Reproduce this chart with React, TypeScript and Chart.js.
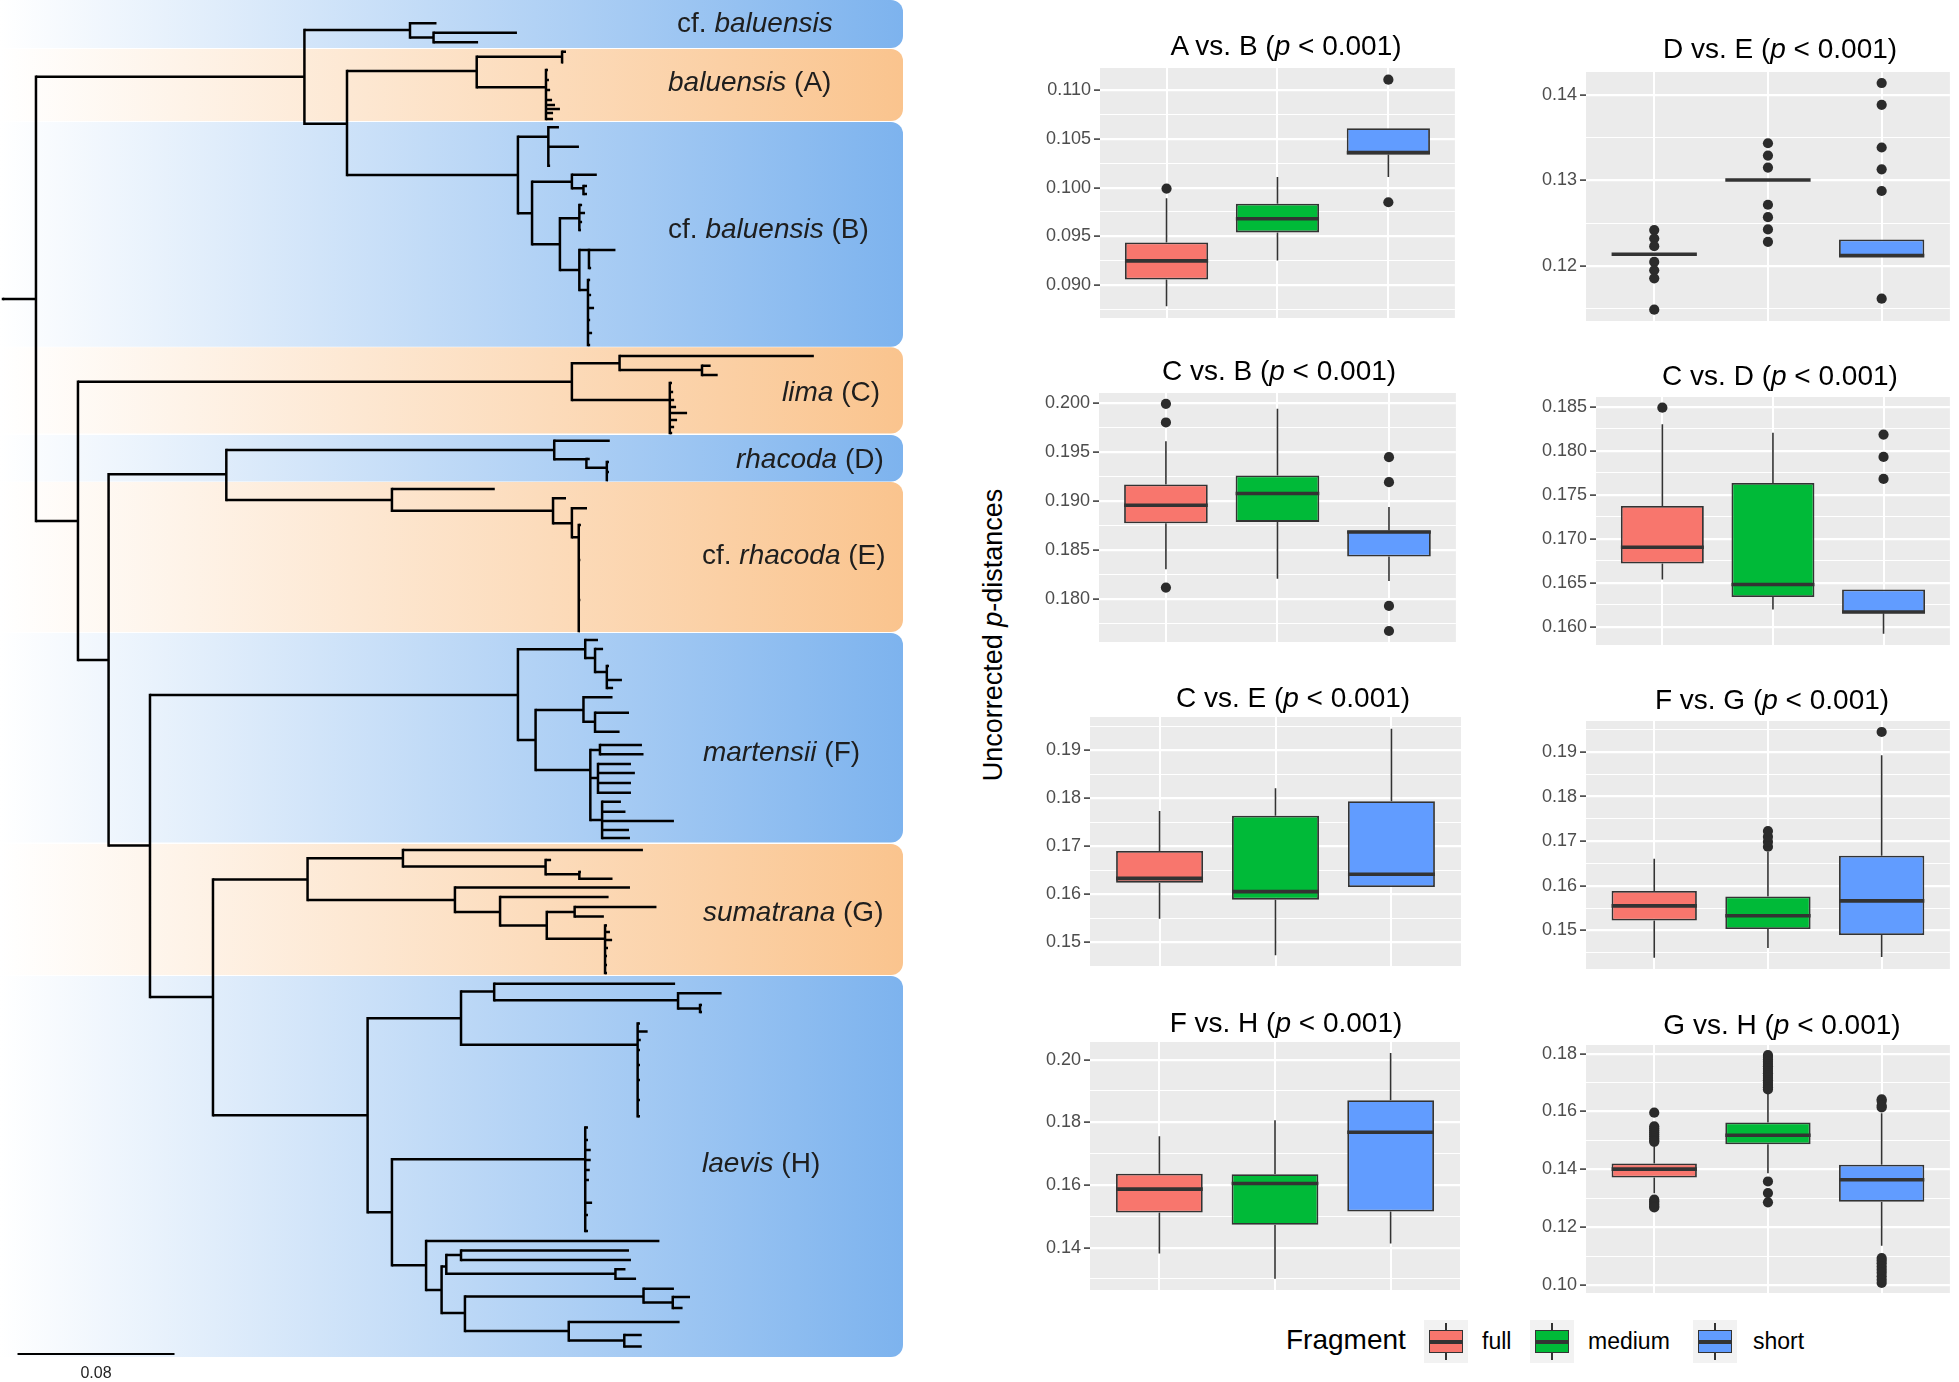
import React, { useEffect, useRef } from 'react';
import { Chart, registerables } from 'chart.js';

Chart.register(...registerables);

const FONT = '"Liberation Sans", Arial, Helvetica, sans-serif';

/* ======================= Tree data ======================= */
// [node id ('' = tip), parent id, depth (x 0.001 substitutions/site), row position]
const TREE_NODES: [string, string, number, number][] = [
  ['S', '', 0, 299],
  ['R', 'S', 16.8, 299],
  ['N1', 'R', 153.6, 76.7],
  ['N1a', 'N1', 207.4, 30],
  ['', 'N1a', 220.9, 23.3],
  ['N1b', 'N1a', 219.4, 37.5],
  ['', 'N1b', 261.9, 32.7],
  ['', 'N1b', 242.1, 42.3],
  ['N2', 'N1', 175.3, 123.7],
  ['A', 'N2', 241.4, 71],
  ['A1', 'A', 284.9, 56.7],
  ['', 'A1', 286.9, 51.7],
  ['', 'A1', 285.4, 62.3],
  ['A2', 'A', 276.7, 87.3],
  ['', 'A2', 277.7, 70], ['', 'A2', 278.2, 80], ['', 'A2', 278.8, 90], ['', 'A2', 279.8, 100],
  ['', 'A2', 281.3, 105], ['', 'A2', 283.8, 109], ['', 'A2', 280.3, 113], ['', 'A2', 280.3, 119],
  ['B', 'N2', 262.4, 175],
  ['B1', 'B', 277.9, 136.7],
  ['', 'B1', 283.3, 127.3], ['', 'B1', 293.5, 146.7], ['', 'B1', 278.8, 165.7],
  ['B2', 'B', 269.6, 213.3],
  ['B2a', 'B2', 289.9, 181.7],
  ['', 'B2a', 302.6, 174.7],
  ['B2b', 'B2a', 295.8, 188.3],
  ['', 'B2b', 297.6, 186], ['', 'B2b', 297.6, 194],
  ['B3', 'B2', 283.8, 244.3],
  ['B3a', 'B3', 293.7, 218.3],
  ['', 'B3a', 295.1, 205], ['', 'B3a', 296.6, 213], ['', 'B3a', 295.1, 222], ['', 'B3a', 294.5, 230],
  ['B4', 'B3', 293.7, 270],
  ['B4a', 'B4', 298.6, 250],
  ['', 'B4a', 312.1, 250], ['', 'B4a', 299.7, 268],
  ['B4b', 'B4', 298.1, 290],
  ['', 'B4b', 299.2, 280], ['', 'B4b', 299.7, 295], ['', 'B4b', 301.2, 308], ['', 'B4b', 299.2, 320],
  ['', 'B4b', 300.2, 333], ['', 'B4b', 299.2, 345],
  ['R2', 'R', 38.2, 521],
  ['C', 'R2', 289.9, 381.7],
  ['C1', 'C', 314.2, 363.3],
  ['', 'C1', 413.2, 356],
  ['C1b', 'C1', 356.2, 370],
  ['', 'C1b', 360.6, 365.7], ['', 'C1b', 364.2, 375],
  ['C2', 'C', 339.8, 400],
  ['', 'C2', 340.9, 383], ['', 'C2', 341.5, 392], ['', 'C2', 342, 400], ['', 'C2', 343, 407],
  ['', 'C2', 348.6, 413], ['', 'C2', 343.5, 420], ['', 'C2', 342, 427], ['', 'C2', 341, 433],
  ['R3', 'R2', 53.8, 660],
  ['DE', 'R3', 113.8, 474.3],
  ['D', 'DE', 280.9, 450],
  ['', 'D', 309.2, 440.7],
  ['D2', 'D', 297.3, 459.3],
  ['', 'D2', 299, 459],
  ['D3', 'D2', 307.7, 467.7],
  ['', 'D3', 308.8, 462], ['', 'D3', 308.8, 472], ['', 'D3', 308.3, 480],
  ['E', 'DE', 198.2, 500],
  ['', 'E', 250.6, 489],
  ['E1', 'E', 280.3, 510.7],
  ['', 'E1', 286.9, 498.3],
  ['E2', 'E1', 289.9, 523.3],
  ['', 'E2', 297.6, 508.3],
  ['E3', 'E2', 293.4, 537.3],
  ['', 'E3', 294.5, 525], ['', 'E3', 294, 540], ['', 'E3', 294.2, 560], ['', 'E3', 294, 580],
  ['', 'E3', 294.2, 600], ['', 'E3', 294, 615], ['', 'E3', 294, 631],
  ['R4', 'R3', 74.9, 845.5],
  ['F', 'R4', 262.4, 695],
  ['F1', 'F', 296.7, 649.3],
  ['', 'F1', 303.2, 640],
  ['F1b', 'F1', 301.7, 658],
  ['', 'F1b', 305.8, 649],
  ['F1c', 'F1b', 307.7, 672],
  ['', 'F1c', 308.8, 666], ['', 'F1c', 315.4, 680], ['', 'F1c', 310.9, 688],
  ['F2', 'F', 271.4, 740],
  ['F2a', 'F2', 295.8, 710],
  ['', 'F2a', 310.6, 697.3],
  ['F2b', 'F2a', 301.7, 721.7],
  ['', 'F2b', 319, 712.7], ['', 'F2b', 314.2, 731.7],
  ['F3', 'F2', 299.3, 770],
  ['Fa', 'F3', 304.2, 750],
  ['', 'Fa', 325.6, 745], ['', 'Fa', 326.4, 754.3],
  ['Fb', 'F3', 303.2, 778],
  ['', 'Fb', 320, 764], ['', 'Fb', 322, 773], ['', 'Fb', 320, 783], ['', 'Fb', 320, 792.7],
  ['Fc', 'F3', 305.3, 820],
  ['', 'Fc', 314.9, 801.7], ['', 'Fc', 317.2, 811.7], ['', 'Fc', 341.9, 821], ['', 'Fc', 319, 830],
  ['', 'Fc', 319.5, 838],
  ['GH', 'R4', 107.0, 997],
  ['G', 'GH', 155.2, 879.5],
  ['G1', 'G', 203.8, 858.3],
  ['', 'G1', 326.1, 850.1],
  ['G1b', 'G1', 276.5, 866.4],
  ['', 'G1b', 279.3, 860],
  ['G1c', 'G1b', 293.7, 874.2],
  ['', 'G1c', 294.5, 872], ['', 'G1c', 310.6, 878.8],
  ['G2', 'G', 230.3, 900],
  ['', 'G2', 319.5, 887.6],
  ['G3', 'G2', 253.3, 912],
  ['', 'G3', 308.6, 897.1],
  ['G4', 'G3', 277.1, 925.4],
  ['G4a', 'G4', 291.3, 912],
  ['', 'G4a', 333.0, 907], ['', 'G4a', 306.2, 916.6],
  ['G4b', 'G4', 306.8, 938.8],
  ['', 'G4b', 307.8, 925.4], ['', 'G4b', 309.3, 932], ['', 'G4b', 310.4, 940], ['', 'G4b', 308.3, 948],
  ['', 'G4b', 307.8, 956], ['', 'G4b', 307.8, 965], ['', 'G4b', 307.8, 973],
  ['H', 'GH', 185.8, 1115.2],
  ['H1', 'H', 233.4, 1018.3],
  ['H1a', 'H1', 250.3, 991.5],
  ['', 'H1a', 342.5, 983.7],
  ['H1c', 'H1a', 344.0, 1000.3],
  ['', 'H1c', 366.2, 993.3],
  ['H1d', 'H1c', 355.2, 1008.4],
  ['', 'H1d', 356.2, 1005], ['', 'H1d', 356.2, 1012],
  ['H1b', 'H1', 323.4, 1044.8],
  ['', 'H1b', 324.6, 1023.6], ['', 'H1b', 328.5, 1031.4], ['', 'H1b', 325, 1040], ['', 'H1b', 324.6, 1050],
  ['', 'H1b', 324.6, 1065], ['', 'H1b', 324.6, 1080], ['', 'H1b', 324.6, 1100], ['', 'H1b', 324.6, 1116.2],
  ['H2', 'H', 198.2, 1212.3],
  ['H2a', 'H2', 296.7, 1159.3],
  ['', 'H2a', 298.1, 1127.5], ['', 'H2a', 298.1, 1140], ['', 'H2a', 299.5, 1150], ['', 'H2a', 299.5, 1160],
  ['', 'H2a', 299, 1170], ['', 'H2a', 298.6, 1180], ['', 'H2a', 300.2, 1202.8], ['', 'H2a', 298.1, 1215],
  ['', 'H2a', 298.1, 1231],
  ['H3', 'H2', 215.6, 1265.3],
  ['', 'H3', 334.5, 1241],
  ['H4', 'H3', 223.5, 1290],
  ['H5', 'H4', 225.9, 1266.4],
  ['H5a', 'H5', 233.4, 1255],
  ['', 'H5a', 319, 1250.5], ['', 'H5a', 320, 1260],
  ['H5b', 'H5', 312.1, 1273.8],
  ['', 'H5b', 317.2, 1269.2], ['', 'H5b', 322.6, 1278.8],
  ['H6', 'H4', 235.4, 1313],
  ['H6a', 'H6', 326.4, 1296.4],
  ['', 'H6a', 341.9, 1288.7],
  ['H6b', 'H6a', 341.3, 1302.4],
  ['', 'H6b', 350.1, 1297], ['', 'H6b', 346.3, 1308],
  ['H7', 'H6', 288.3, 1331],
  ['', 'H7', 344.8, 1321.9],
  ['H7a', 'H7', 316.6, 1340.6],
  ['', 'H7a', 325.5, 1335], ['', 'H7a', 325.5, 1346.6],
];

const SCALE_BAR_START = 7.4;
const SCALE_BAR_LENGTH = 80; // = 0.08 substitutions/site
const SCALE_BAR_ROW = 1354;
const SCALE_BAR_LABEL = '0.08';

const CLADE_PREFIX = ['cf. ', '', 'cf. ', '', '', 'cf. ', '', '', ''];
const CLADE_SPECIES = ['baluensis', 'baluensis', 'baluensis', 'lima', 'rhacoda', 'rhacoda', 'martensii', 'sumatrana', 'laevis'];
const CLADE_SUFFIX = ['', ' (A)', ' (B)', ' (C)', ' (D)', ' (E)', ' (F)', ' (G)', ' (H)'];
const BAND_TOP = [0, 49, 122, 347.3, 435, 482, 633, 844, 976];
const BAND_BOTTOM = [48, 121, 346.7, 433.5, 481.5, 632, 842.4, 975, 1357];
const BAND_KIND = ['blue', 'orange', 'blue', 'orange', 'blue', 'orange', 'blue', 'orange', 'blue'];

/* ======================= Box plot data ======================= */
const FRAGMENTS = ['full', 'medium', 'short'];
const COMPARISONS = ['A vs. B', 'D vs. E', 'C vs. B', 'C vs. D', 'C vs. E', 'F vs. G', 'F vs. H', 'G vs. H'];
const P_TEXT = ' < 0.001)';
const Y_AXIS_TITLE_A = 'Uncorrected ';
const Y_AXIS_TITLE_B = '-distances';
const LEGEND_TITLE = 'Fragment';

// each row: [lower whisker, Q1, median, Q3, upper whisker] for full, medium, short
const AB_STATS = [
  [0.0878, 0.09055, 0.09247, 0.09436, 0.0989],
  [0.0925, 0.0954, 0.0968, 0.09835, 0.1011],
  [0.1011, 0.1034, 0.1036, 0.1061, 0.1061],
];
const AB_OUTLIERS = [[0.0999], [], [0.1111, 0.0985]];

const DE_STATS = [
  [0.12137, 0.12137, 0.12137, 0.12137, 0.12137],
  [0.13006, 0.13006, 0.13006, 0.13006, 0.13006],
  [0.1211, 0.1211, 0.1212, 0.1231, 0.1231],
];
const DE_OUTLIERS = [
  [0.12419, 0.12321, 0.12231, 0.12047, 0.11949, 0.11855, 0.11487],
  [0.13436, 0.13292, 0.13151, 0.12716, 0.12571, 0.12427, 0.12282],
  [0.14141, 0.13886, 0.13386, 0.13131, 0.12877, 0.11616],
];

const CB_STATS = [
  [0.18306, 0.18775, 0.18958, 0.1917, 0.1961],
  [0.1821, 0.18788, 0.19077, 0.1926, 0.1994],
  [0.18187, 0.18435, 0.18686, 0.187, 0.18941],
];
const CB_OUTLIERS = [[0.1999, 0.198, 0.1812], [], [0.19447, 0.19192, 0.17933, 0.17678]];

const CD_STATS = [
  [0.16538, 0.1672, 0.16905, 0.17375, 0.18303],
  [0.16197, 0.16337, 0.16481, 0.17636, 0.18208],
  [0.1592, 0.16152, 0.16167, 0.16424, 0.16424],
];
const CD_OUTLIERS = [[0.18492], [], [0.18186, 0.17932, 0.17682]];

const CE_STATS = [
  [0.15493, 0.16243, 0.16333, 0.16903, 0.17736],
  [0.14729, 0.15889, 0.16056, 0.17639, 0.18208],
  [0.16153, 0.16153, 0.16417, 0.17938, 0.19451],
];
const CE_OUTLIERS = [[], [], []];

const FG_STATS = [
  [0.14389, 0.15223, 0.15551, 0.15886, 0.16609],
  [0.14605, 0.1503, 0.15328, 0.1576, 0.16765],
  [0.14404, 0.14896, 0.15663, 0.16676, 0.18926],
];
const FG_OUTLIERS = [[], [0.16877, 0.16989, 0.17101, 0.17227], [0.19447]];

const FH_STATS = [
  [0.13818, 0.15125, 0.15868, 0.16357, 0.17557],
  [0.13011, 0.14732, 0.16049, 0.16346, 0.18067],
  [0.14137, 0.15157, 0.17685, 0.18704, 0.20212],
];
const FH_OUTLIERS = [[], [], []];

const GH_STATS = [
  [0.13177, 0.13718, 0.14006, 0.14202, 0.14788],
  [0.13868, 0.14869, 0.1518, 0.15617, 0.1663],
  [0.11359, 0.12878, 0.13638, 0.14156, 0.1594],
];
const GH_OUTLIERS = [
  [0.1596, 0.1549, 0.1542, 0.1535, 0.1528, 0.1521, 0.1514, 0.1507, 0.15, 0.1495,
    0.1295, 0.129, 0.1284, 0.1278, 0.1272, 0.1268],
  [0.1795, 0.1788, 0.178, 0.1772, 0.1764, 0.1756, 0.1748, 0.174, 0.1732, 0.1724, 0.1716,
    0.1708, 0.17, 0.1692, 0.1684, 0.1676, 0.1358, 0.1318, 0.1286],
  [0.1642, 0.1636, 0.162, 0.1614, 0.1093, 0.1085, 0.1075, 0.1064, 0.1053, 0.1042, 0.103, 0.1018, 0.1007],
];

const Y_RANGES = [
  [0.0866, 0.1123], [0.11355, 0.1427], [0.17566, 0.201], [0.15792, 0.18614],
  [0.14507, 0.19694], [0.14136, 0.19693], [0.1265, 0.20563], [0.09724, 0.18299],
];
const Y_BREAK_STEPS = [0.005, 0.01, 0.005, 0.005, 0.01, 0.01, 0.02, 0.02];
const Y_DECIMALS = [3, 2, 3, 3, 2, 2, 2, 2];

const PANEL_STATS = [AB_STATS, DE_STATS, CB_STATS, CD_STATS, CE_STATS, FG_STATS, FH_STATS, GH_STATS];
const PANEL_OUTLIERS = [AB_OUTLIERS, DE_OUTLIERS, CB_OUTLIERS, CD_OUTLIERS, CE_OUTLIERS, FG_OUTLIERS, FH_OUTLIERS, GH_OUTLIERS];

/* ======================= Layout / style ======================= */
const PAGE_W = 1959;
const PAGE_H = 1382;
const TREE_W = 910;
const TREE_X_MIN = -1.53;
const TREE_X_MAX = 462.2;
const BAND_RIGHT_PX = 903;
const BAND_RADIUS = 12;
const BAND_COLORS: Record<string, string> = { blue: '#7DB3EE', orange: '#FAC48E' };
const LABEL_POS = [
  [343.5, 24], [338.9, 83], [338.9, 230], [397.0, 393], [373.5, 460],
  [356.2, 556], [356.7, 753], [356.7, 913], [356.2, 1164],
];
const FRAGMENT_COLORS = ['#F8766D', '#00BA38', '#619CFF'];
// [left, right, top, bottom] of each panel's plotting area
const PANEL_BOXES = [
  [1100, 1460, 68, 318], [1586, 1955, 72, 321],
  [1099, 1461, 393, 642], [1596, 1955, 397, 645],
  [1090, 1461, 717, 966], [1586, 1955, 721, 969],
  [1090, 1460, 1042, 1290], [1586, 1955, 1045, 1293],
];
const TITLE_POS = [
  [1286, 48], [1780, 51], [1279, 373], [1780, 378],
  [1293, 700], [1772, 702], [1286, 1025], [1782, 1027],
];
const AXW = 80;
const PADV = 14;
const LEGEND_KEY_X = [1424, 1530, 1693];
const LEGEND_LABEL_X = [1482, 1588, 1753];

/* ======================= Tree chart ======================= */
const treeDecor = {
  id: 'treeDecor',
  beforeDatasetsDraw(chart: any) {
    const { ctx } = chart;
    const ys = chart.scales.y;
    ctx.save();
    BAND_TOP.forEach((top, i) => {
      const y0 = ys.getPixelForValue(top);
      const y1 = ys.getPixelForValue(BAND_BOTTOM[i]);
      const x0 = 0;
      const x1 = BAND_RIGHT_PX;
      const r = BAND_RADIUS;
      const g = ctx.createLinearGradient(x0, 0, x1, 0);
      g.addColorStop(0, '#FFFFFF');
      g.addColorStop(1, BAND_COLORS[BAND_KIND[i]]);
      ctx.fillStyle = g;
      ctx.beginPath();
      ctx.moveTo(x0, y0);
      ctx.lineTo(x1 - r, y0);
      ctx.arcTo(x1, y0, x1, y0 + r, r);
      ctx.lineTo(x1, y1 - r);
      ctx.arcTo(x1, y1, x1 - r, y1, r);
      ctx.lineTo(x0, y1);
      ctx.closePath();
      ctx.fill();
    });
    ctx.restore();
  },
  afterDatasetsDraw(chart: any) {
    const { ctx } = chart;
    const xs = chart.scales.x;
    const ys = chart.scales.y;
    ctx.save();
    ctx.fillStyle = '#1E1E1E';
    ctx.textBaseline = 'middle';
    ctx.textAlign = 'left';
    CLADE_SPECIES.forEach((sp, i) => {
      let x = xs.getPixelForValue(LABEL_POS[i][0]);
      const y = ys.getPixelForValue(LABEL_POS[i][1]);
      const parts: [string, boolean][] = [[CLADE_PREFIX[i], false], [sp, true], [CLADE_SUFFIX[i], false]];
      parts.forEach(([t, it]) => {
        if (!t) return;
        ctx.font = `${it ? 'italic ' : ''}28px ${FONT}`;
        ctx.fillText(t, x, y);
        x += ctx.measureText(t).width;
      });
    });
    ctx.font = `16px ${FONT}`;
    ctx.textAlign = 'center';
    ctx.fillStyle = '#222';
    ctx.fillText(
      SCALE_BAR_LABEL,
      xs.getPixelForValue(SCALE_BAR_START + SCALE_BAR_LENGTH / 2),
      ys.getPixelForValue(SCALE_BAR_ROW + 20)
    );
    ctx.restore();
  },
};

function TreeChart() {
  const ref = useRef<HTMLCanvasElement>(null);
  useEffect(() => {
    const byId = new Map<string, [string, string, number, number]>();
    const kids = new Map<string, [string, string, number, number][]>();
    TREE_NODES.forEach((n) => {
      if (n[0]) byId.set(n[0], n);
      if (n[1]) {
        if (!kids.has(n[1])) kids.set(n[1], []);
        kids.get(n[1])!.push(n);
      }
    });
    const horiz: any[] = [];
    const vert: any[] = [];
    TREE_NODES.forEach(([id, parent, d, y]) => {
      if (parent) {
        const p = byId.get(parent)!;
        horiz.push({ x: p[2], y }, { x: d, y }, { x: d, y: null });
      }
      if (id && kids.has(id)) {
        const ys = kids.get(id)!.map((c) => c[3]).concat([y]);
        vert.push({ x: d, y: Math.min(...ys) }, { x: d, y: Math.max(...ys) }, { x: d, y: null });
      }
    });
    const lineStyle = {
      showLine: true,
      borderColor: '#000000',
      backgroundColor: '#000000',
      borderWidth: 2.5,
      pointRadius: 0,
      spanGaps: false,
    };
    const chart = new Chart(ref.current as HTMLCanvasElement, {
      type: 'scatter',
      data: {
        datasets: [
          { ...lineStyle, data: vert, borderCapStyle: 'square' } as any,
          { ...lineStyle, data: horiz, borderCapStyle: 'butt' } as any,
          {
            data: [
              { x: SCALE_BAR_START, y: SCALE_BAR_ROW },
              { x: SCALE_BAR_START + SCALE_BAR_LENGTH, y: SCALE_BAR_ROW },
            ],
            showLine: true,
            borderColor: '#000000',
            borderWidth: 2,
            pointRadius: 0,
          } as any,
        ],
      },
      options: {
        responsive: false,
        animation: false,
        events: [],
        layout: { padding: 0 },
        plugins: { legend: { display: false }, tooltip: { enabled: false } },
        scales: {
          x: { type: 'linear', display: false, min: TREE_X_MIN, max: TREE_X_MAX },
          y: { type: 'linear', display: false, min: 0, max: PAGE_H, reverse: true },
        },
      } as any,
      plugins: [treeDecor as any],
    });
    return () => chart.destroy();
  }, []);
  return (
    <canvas
      ref={ref}
      width={TREE_W}
      height={PAGE_H}
      style={{ position: 'absolute', left: 0, top: 0, width: TREE_W, height: PAGE_H }}
    />
  );
}

/* ======================= Box plot panels ======================= */
const panelBg = {
  id: 'panelBg',
  beforeDraw(chart: any) {
    const { ctx, chartArea: a } = chart;
    ctx.save();
    ctx.fillStyle = '#EBEBEB';
    ctx.fillRect(a.left, a.top, a.right - a.left, a.bottom - a.top);
    ctx.restore();
  },
};

function BoxPanel({ index }: { index: number }) {
  const ref = useRef<HTMLCanvasElement>(null);
  const [L, R, T, B] = PANEL_BOXES[index];
  const cw = R - L + AXW;
  const ch = B - T + 2 * PADV;
  useEffect(() => {
    const stats = PANEL_STATS[index];
    const outliers = PANEL_OUTLIERS[index];
    const [yMin, yMax] = Y_RANGES[index];
    const step = Y_BREAK_STEPS[index];
    const dec = Y_DECIMALS[index];
    const xs = FRAGMENTS.map((_, i) => i + 1);
    const whisk: any[] = [];
    const med: any[] = [];
    stats.forEach((s, i) => {
      const x = xs[i];
      whisk.push({ x, y: s[0] }, { x, y: s[1] }, { x, y: null }, { x, y: s[3] }, { x, y: s[4] }, { x, y: null });
      med.push({ x: x - 0.375, y: s[2] }, { x: x + 0.375, y: s[2] }, { x, y: null });
    });
    const outs: any[] = [];
    outliers.forEach((arr, i) => arr.forEach((v) => outs.push({ x: xs[i], y: v })));
    const isMajor = (v: number) => Math.abs(v / step - Math.round(v / step)) < 1e-4;
    const chart = new Chart(ref.current as HTMLCanvasElement, {
      type: 'bar',
      data: {
        datasets: [
          {
            type: 'scatter',
            data: outs,
            pointRadius: 5.1,
            pointBorderWidth: 0,
            backgroundColor: '#2B2B2B',
            borderColor: '#2B2B2B',
            order: 0,
          },
          {
            type: 'line',
            data: med,
            borderColor: '#333333',
            borderWidth: 3.6,
            pointRadius: 0,
            spanGaps: false,
            borderCapStyle: 'butt',
            order: 1,
          },
          {
            type: 'bar',
            data: stats.map((s, i) => ({ x: xs[i], y: [s[1], s[3]] })),
            backgroundColor: FRAGMENT_COLORS,
            borderColor: '#333333',
            borderWidth: 1.8,
            borderSkipped: false,
            barPercentage: 0.75,
            categoryPercentage: 1,
            order: 2,
          },
          {
            type: 'line',
            data: whisk,
            borderColor: '#333333',
            borderWidth: 1.6,
            pointRadius: 0,
            spanGaps: false,
            order: 3,
          },
        ] as any,
      },
      options: {
        responsive: false,
        animation: false,
        events: [],
        layout: { padding: { top: PADV, bottom: PADV, left: 0, right: 0 } },
        plugins: { legend: { display: false }, tooltip: { enabled: false } },
        scales: {
          x: {
            type: 'linear',
            min: 0.4,
            max: 3.6,
            offset: false,
            afterBuildTicks: (s: any) => {
              s.ticks = xs.map((v) => ({ value: v }));
            },
            afterFit: (s: any) => {
              s.height = 0;
            },
            ticks: { display: false },
            grid: { color: '#FFFFFF', lineWidth: 2, drawTicks: false, offset: false },
            border: { display: false },
          },
          y: {
            type: 'linear',
            min: yMin,
            max: yMax,
            afterBuildTicks: (s: any) => {
              const minor = step / 2;
              const k0 = Math.ceil(yMin / minor - 1e-6);
              const k1 = Math.floor(yMax / minor + 1e-6);
              const t: any[] = [];
              for (let k = k0; k <= k1; k++) t.push({ value: +(k * minor).toFixed(6) });
              s.ticks = t;
            },
            afterFit: (s: any) => {
              s.width = AXW;
            },
            ticks: {
              autoSkip: false,
              padding: 3,
              color: '#4D4D4D',
              font: { family: FONT, size: 18 },
              callback: (v: any) => (isMajor(Number(v)) ? Number(v).toFixed(dec) : ''),
            },
            grid: {
              color: '#FFFFFF',
              lineWidth: (c: any) => (c.tick && isMajor(c.tick.value) ? 2.2 : 1.1),
              tickColor: (c: any) => (c.tick && isMajor(c.tick.value) ? '#333333' : 'rgba(0,0,0,0)'),
              tickWidth: 1.5,
              tickLength: 6,
              drawTicks: true,
            },
            border: { display: false },
          },
        },
      } as any,
      plugins: [panelBg as any],
    });
    return () => chart.destroy();
  }, [index]);
  return (
    <canvas
      ref={ref}
      width={cw}
      height={ch}
      style={{ position: 'absolute', left: L - AXW, top: T - PADV, width: cw, height: ch }}
    />
  );
}

function PanelTitle({ index }: { index: number }) {
  const [cx, cy] = TITLE_POS[index];
  return (
    <div
      style={{
        position: 'absolute',
        left: cx - 200,
        top: cy - 18,
        width: 400,
        height: 32,
        lineHeight: '32px',
        textAlign: 'center',
        fontSize: 28,
        fontFamily: FONT,
        color: '#000',
        whiteSpace: 'nowrap',
      }}
    >
      {COMPARISONS[index] + ' ('}
      <i>p</i>
      {P_TEXT}
    </div>
  );
}

function LegendKey({ color, left }: { color: string; left: number }) {
  return (
    <div style={{ position: 'absolute', left, top: 1320, width: 44, height: 43, background: '#F2F2F2' }}>
      <div style={{ position: 'absolute', left: 21, top: 3, width: 2, height: 37, background: '#333' }} />
      <div
        style={{
          position: 'absolute',
          left: 5,
          top: 10,
          width: 34,
          height: 23,
          background: color,
          border: '1.8px solid #333',
          boxSizing: 'border-box',
        }}
      />
      <div style={{ position: 'absolute', left: 5, top: 20, width: 34, height: 3.5, background: '#333' }} />
    </div>
  );
}

export default function App() {
  return (
    <div
      style={{
        position: 'absolute',
        left: 0,
        top: 0,
        width: PAGE_W,
        height: PAGE_H,
        background: '#FFFFFF',
        overflow: 'hidden',
        fontFamily: FONT,
      }}
    >
      <TreeChart />
      {COMPARISONS.map((_, i) => (
        <BoxPanel key={'p' + i} index={i} />
      ))}
      {COMPARISONS.map((_, i) => (
        <PanelTitle key={'t' + i} index={i} />
      ))}
      <div
        style={{
          position: 'absolute',
          left: 993 - 250,
          top: 636 - 17,
          width: 500,
          height: 32,
          lineHeight: '32px',
          textAlign: 'center',
          fontSize: 27,
          fontFamily: FONT,
          color: '#000',
          transform: 'rotate(-90deg)',
          whiteSpace: 'nowrap',
        }}
      >
        {Y_AXIS_TITLE_A}
        <i>p</i>
        {Y_AXIS_TITLE_B}
      </div>
      <div
        style={{
          position: 'absolute',
          left: 1286,
          top: 1342 - 18,
          height: 32,
          lineHeight: '32px',
          fontSize: 28,
          fontFamily: FONT,
          color: '#000',
          whiteSpace: 'nowrap',
        }}
      >
        {LEGEND_TITLE}
      </div>
      {FRAGMENTS.map((f, i) => (
        <React.Fragment key={'l' + i}>
          <LegendKey color={FRAGMENT_COLORS[i]} left={LEGEND_KEY_X[i]} />
          <div
            style={{
              position: 'absolute',
              left: LEGEND_LABEL_X[i],
              top: 1342 - 15,
              height: 28,
              lineHeight: '28px',
              fontSize: 23,
              fontFamily: FONT,
              color: '#000',
              whiteSpace: 'nowrap',
            }}
          >
            {f}
          </div>
        </React.Fragment>
      ))}
    </div>
  );
}
